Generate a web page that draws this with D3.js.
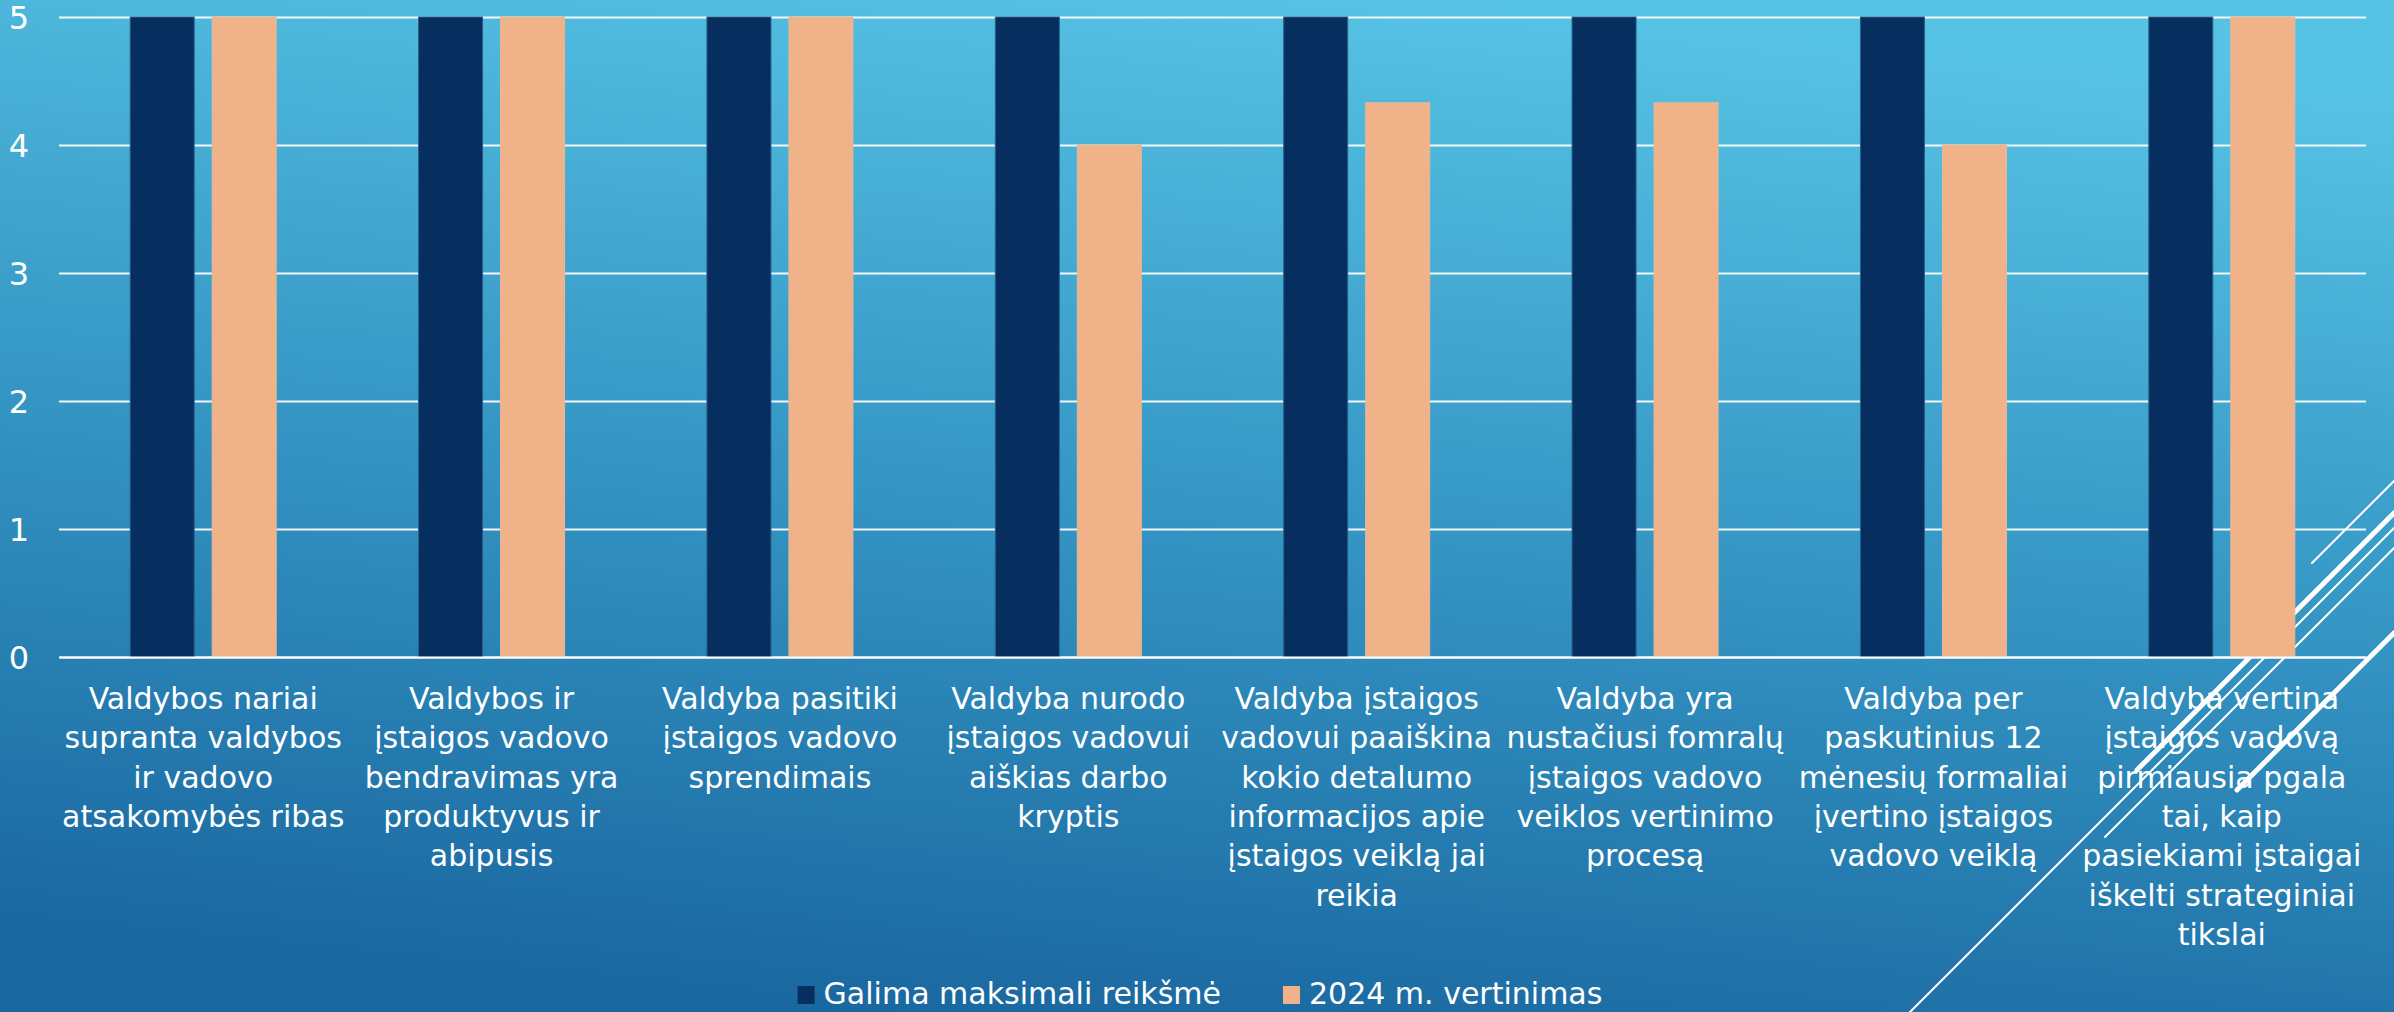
<!DOCTYPE html>
<html>
<head>
<meta charset="utf-8">
<script src="https://cdn.jsdelivr.net/npm/d3@7"></script>
<style>
  html, body { margin: 0; padding: 0; overflow: hidden; }
  svg { display: block; }
  text { font-family: "DejaVu Sans", sans-serif; fill: #ffffff; }
</style>
</head>
<body>
<div class="chart"></div>
<script>
"use strict";

// data
const categories = [
  "Valdybos nariai\nsupranta valdybos\nir vadovo\natsakomybės ribas",
  "Valdybos ir\nįstaigos vadovo\nbendravimas yra\nproduktyvus ir\nabipusis",
  "Valdyba pasitiki\nįstaigos vadovo\nsprendimais",
  "Valdyba nurodo\nįstaigos vadovui\naiškias darbo\nkryptis",
  "Valdyba įstaigos\nvadovui paaiškina\nkokio detalumo\ninformacijos apie\nįstaigos veiklą jai\nreikia",
  "Valdyba yra\nnustačiusi fomralų\nįstaigos vadovo\nveiklos vertinimo\nprocesą",
  "Valdyba per\npaskutinius 12\nmėnesių formaliai\nįvertino įstaigos\nvadovo veiklą",
  "Valdyba vertina\nįstaigos vadovą\npirmiausia pgala\ntai, kaip\npasiekiami įstaigai\niškelti strateginiai\ntikslai"
];
const seriesNames = ["Galima maksimali reikšmė", "2024 m. vertinimas"];
const maxValues = [5, 5, 5, 5, 5, 5, 5, 5];
const scores2024 = [5, 5, 5, 4, 4.33, 4.33, 4, 5];
const yTicks = [0, 1, 2, 3, 4, 5];
const colors = ["#062f60", "#f0b288"];

const W = 2394, H = 1012;
const margin = {top: 17, right: 28, bottom: 355, left: 59};
const width = W - margin.left - margin.right;
const height = H - margin.top - margin.bottom;

const svg = d3.select(".chart").append("svg")
    .attr("width", W)
    .attr("height", H);

// slide background
const defs = svg.append("defs");
const grad = defs.append("linearGradient")
    .attr("id", "bg")
    .attr("x1", "0.62").attr("y1", "0")
    .attr("x2", "0.38").attr("y2", "1");
grad.append("stop").attr("offset", "0").attr("stop-color", "#57c3e4");
grad.append("stop").attr("offset", "0.5").attr("stop-color", "#3596c4");
grad.append("stop").attr("offset", "1").attr("stop-color", "#1a68a0");
svg.append("rect").attr("width", W).attr("height", H).attr("fill", "url(#bg)");

// theme decoration in the corner (behind the chart)
const deco = [
  {x1: 2312, y1: 563, x2: 2394, y2: 481, w: 2},
  {x1: 2137, y1: 770, x2: 2394, y2: 513, w: 5},
  {x1: 1910, y1: 1012, x2: 2394, y2: 528, w: 2},
  {x1: 2105, y1: 837, x2: 2394, y2: 548, w: 2},
  {x1: 2237, y1: 790, x2: 2394, y2: 633, w: 5}
];
svg.append("g").selectAll("line").data(deco).join("line")
    .attr("x1", d => d.x1).attr("y1", d => d.y1)
    .attr("x2", d => d.x2).attr("y2", d => d.y2)
    .attr("stroke", "#ffffff")
    .attr("stroke-width", d => d.w)
    .attr("stroke-linecap", "round");

const g = svg.append("g")
    .attr("transform", "translate(" + margin.left + "," + margin.top + ")");

const x0 = d3.scaleBand().domain(d3.range(categories.length)).range([0, width]).padding(0);
const y = d3.scaleLinear().domain([0, 5]).range([height, 0]);

// gridlines + y labels
const yAxis = d3.axisLeft(y).tickValues(yTicks).tickSize(-width).tickFormat(d3.format("d"));
const yg = g.append("g").attr("class", "y axis").call(yAxis);
yg.select(".domain").remove();
yg.selectAll(".tick line").attr("stroke", "#ffffff").attr("stroke-width", 2).attr("opacity", 0.92);
yg.selectAll(".tick text")
    .attr("x", -30)
    .attr("dy", "0.36em")
    .style("text-anchor", "end")
    .style("font-size", "32px")
    .style("fill", "#ffffff");

// bars
const barW = 64, barGap = 18;
const x1 = d3.scaleBand().domain([0, 1]).range([0, barW * 2 + barGap]).paddingInner(barGap / (barW + barGap));
const rows = categories.map((c, i) => ({i: i, vals: [maxValues[i], scores2024[i]]}));
const grp = g.append("g").selectAll("g").data(rows).join("g")
    .attr("transform", d => "translate(" + (x0(d.i) + (x0.bandwidth() - (barW * 2 + barGap)) / 2) + ",0)");
grp.selectAll("rect").data(d => d.vals.map((v, k) => ({k: k, v: v}))).join("rect")
    .attr("x", d => x1(d.k))
    .attr("width", x1.bandwidth())
    .attr("y", d => y(d.v))
    .attr("height", d => height - y(d.v))
    .attr("fill", d => colors[d.k])
    .attr("stroke", d => d.k === 0 ? "#2a5f8c" : "#e9b896")
    .attr("stroke-width", 1);

// x axis
const xAxis = d3.axisBottom(x0).tickSize(0).tickFormat(i => categories[i]);
const xg = g.append("g").attr("class", "x axis")
    .attr("transform", "translate(0," + height + ")")
    .call(xAxis);
xg.select(".domain").attr("stroke", "#ffffff").attr("stroke-width", 2);
xg.selectAll(".tick text").each(function(i) {
  const t = d3.select(this);
  const lines = categories[i].split("\n");
  t.text(null)
    .attr("y", 52)
    .attr("dy", null)
    .style("font-size", "30px")
    .style("fill", "#ffffff")
    .style("text-anchor", "middle");
  lines.forEach((ln, k) => {
    t.append("tspan").attr("x", 0).attr("dy", k === 0 ? 0 : 39.3).text(ln);
  });
});

// legend
const leg = svg.append("g");
const items = leg.selectAll("g").data(seriesNames).join("g");
items.append("rect")
    .attr("width", 17).attr("height", 18)
    .attr("y", 986)
    .attr("fill", (d, k) => colors[k]);
items.append("text")
    .attr("x", 26).attr("y", 1004)
    .style("font-size", "30px")
    .text(d => d);
const widths = [];
items.each(function() { widths.push(this.getBBox().width); });
const totalW = d3.sum(widths) + 62;
let cx = 1200 - totalW / 2;
items.attr("transform", (d, k) => {
  const tx = cx;
  cx += widths[k] + 62;
  return "translate(" + tx + ",0)";
});
</script>
</body>
</html>
